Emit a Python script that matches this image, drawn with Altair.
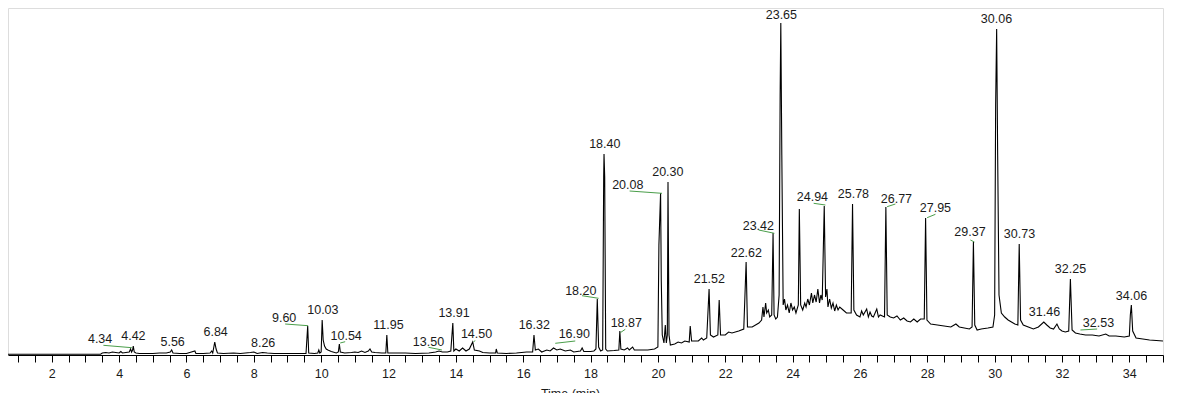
import altair as alt
import pandas as pd

# ---------------- trace (retention time in min, detector response in relative units) -------------
# early part of the run, 0.7 - 23.68 min
time_early = [
    0.70, 3.45, 3.50, 3.60, 3.70, 3.80, 3.90, 4.00, 4.05, 4.10, 4.20, 4.30, 4.34, 4.37, 4.40, 4.42,
    4.45, 4.50, 4.60, 4.80, 5.00, 5.20, 5.40, 5.52, 5.56, 5.60, 5.80, 6.00, 6.25, 6.28, 6.50, 6.70,
    6.75, 6.78, 6.84, 6.88, 6.92, 7.10, 7.40, 7.60, 7.90, 8.00, 8.10, 8.26, 8.40, 8.60, 8.90, 9.20,
    9.55, 9.60, 9.63, 9.80, 9.90, 9.93, 9.96, 10.00, 10.03, 10.06, 10.10, 10.15, 10.20, 10.30,
    10.45, 10.51, 10.54, 10.57, 10.70, 10.90, 11.00, 11.10, 11.20, 11.30, 11.40, 11.45, 11.50,
    11.60, 11.80, 11.92, 11.95, 11.98, 12.20, 12.50, 12.80, 13.20, 13.40, 13.50, 13.60, 13.75,
    13.85, 13.91, 13.94, 14.00, 14.10, 14.20, 14.30, 14.40, 14.50, 14.55, 14.70, 14.80, 15.00,
    15.18, 15.20, 15.23, 15.50, 15.80, 16.10, 16.28, 16.32, 16.36, 16.45, 16.55, 16.70, 16.80,
    16.90, 17.00, 17.10, 17.25, 17.40, 17.50, 17.70, 17.75, 17.80, 18.00, 18.10, 18.16, 18.20,
    18.24, 18.30, 18.36, 18.39, 18.40, 18.42, 18.45, 18.50, 18.70, 18.84, 18.87, 18.90, 19.00,
    19.10, 19.15, 19.25, 19.30, 19.50, 19.70, 19.90, 20.00, 20.03, 20.05, 20.08, 20.10, 20.13,
    20.18, 20.22, 20.25, 20.28, 20.30, 20.33, 20.37, 20.50, 20.60, 20.70, 20.80, 20.93, 20.96,
    21.00, 21.20, 21.30, 21.35, 21.45, 21.52, 21.56, 21.65, 21.78, 21.82, 21.86, 22.00, 22.10,
    22.20, 22.40, 22.55, 22.62, 22.66, 22.80, 23.00, 23.08, 23.12, 23.15, 23.20, 23.23, 23.28,
    23.32, 23.38, 23.42, 23.45, 23.50, 23.55, 23.60, 23.63, 23.65,
]
level_early = [
    0.8, 0.8, 2.0, 2.5, 2.0, 3.0, 2.5, 2.0, 3.5, 2.0, 2.5, 3.0, 6.0, 3.0, 5.0, 9.0,
    3.0, 2.0, 1.5, 1.5, 1.5, 2.0, 2.0, 3.0, 5.0, 2.0, 1.5, 1.5, 4.0, 1.5, 1.5, 2.0,
    4.0, 2.0, 13.0, 6.0, 2.0, 1.5, 2.0, 1.5, 2.5, 3.0, 1.5, 2.5, 2.0, 1.5, 1.5, 1.5,
    1.5, 29.0, 2.0, 1.5, 2.0, 5.0, 2.0, 3.0, 35.0, 15.0, 9.0, 6.0, 5.0, 3.5,
    2.0, 3.0, 11.0, 3.0, 2.0, 2.5, 3.0, 2.5, 4.0, 2.5, 4.0, 6.0, 3.0,
    2.5, 2.0, 2.0, 20.0, 2.0, 2.0, 2.0, 1.5, 2.0, 3.0, 4.0, 3.0, 3.0,
    4.0, 32.0, 4.0, 6.0, 4.0, 7.0, 4.0, 6.0, 13.0, 5.0, 4.0, 2.5, 2.0,
    2.0, 6.0, 2.0, 1.5, 2.0, 3.0, 3.0, 20.0, 5.0, 6.0, 3.0, 5.0, 4.0,
    7.0, 5.0, 6.0, 4.0, 5.0, 3.0, 4.0, 7.0, 3.5, 3.5, 4.0, 6.0, 56.0,
    8.0, 4.0, 5.0, 178.0, 201.0, 178.0, 6.0, 4.0, 4.5, 5.0, 24.0, 6.0, 5.0,
    7.0, 5.0, 8.0, 5.0, 5.0, 5.0, 6.0, 8.0, 110.0, 131.0, 162.0, 75.0, 20.0,
    12.0, 30.0, 12.0, 20.0, 173.0, 20.0, 10.0, 11.0, 13.0, 12.0, 14.0, 13.0, 29.0,
    14.0, 14.0, 17.0, 15.0, 17.0, 66.0, 20.0, 18.0, 20.0, 55.0, 20.0, 20.0, 23.0,
    22.0, 24.0, 26.0, 93.0, 28.0, 28.0, 32.0, 35.0, 48.0, 38.0, 52.0, 42.0, 45.0,
    38.0, 40.0, 122.0, 40.0, 36.0, 38.0, 60.0, 260.0, 332.0,
]

# hump region, 23.68 - 26.81 min
time_mid = [
    23.68, 23.72, 23.76, 23.80, 23.85, 23.90, 23.95, 24.00, 24.05, 24.10,
    24.17, 24.20, 24.24, 24.30, 24.36, 24.40, 24.45, 24.50, 24.56, 24.60,
    24.65, 24.70, 24.75, 24.80, 24.84, 24.88, 24.94, 24.98, 25.02, 25.05,
    25.10, 25.15, 25.20, 25.25, 25.30, 25.35, 25.40, 25.50, 25.60, 25.74,
    25.78, 25.82, 25.90, 26.00, 26.05, 26.10, 26.20, 26.25, 26.30, 26.35,
    26.40, 26.50, 26.55, 26.60, 26.73, 26.77, 26.81,
]
level_mid = [
    200.0, 50.0, 56.0, 45.0, 50.0, 42.0, 52.0, 45.0, 48.0, 42.0,
    50.0, 146.0, 50.0, 45.0, 52.0, 48.0, 56.0, 50.0, 62.0, 52.0,
    60.0, 53.0, 66.0, 52.0, 60.0, 55.0, 149.0, 58.0, 66.0, 48.0,
    56.0, 47.0, 52.0, 44.0, 50.0, 45.0, 48.0, 45.0, 42.0, 42.0,
    151.0, 45.0, 40.0, 38.0, 44.0, 40.0, 46.0, 38.0, 43.0, 39.0,
    38.0, 46.0, 38.0, 40.0, 38.0, 148.0, 40.0,
]

# late part of the run, 26.9 - 35 min
time_late = [
    26.90, 27.00, 27.10, 27.20, 27.30, 27.40, 27.50, 27.60, 27.70,
    27.80, 27.91, 27.95, 27.99, 28.10, 28.30, 28.50, 28.70, 28.85, 28.95, 29.10, 29.25, 29.33,
    29.37, 29.41, 29.48, 29.60, 29.80, 29.95, 30.00, 30.03, 30.06, 30.09, 30.13, 30.20, 30.30,
    30.40, 30.50, 30.60, 30.69, 30.73, 30.77, 30.85, 31.00, 31.15, 31.30, 31.46, 31.55, 31.65,
    31.75, 31.85, 31.92, 32.00, 32.10, 32.20, 32.25, 32.30, 32.40, 32.53, 32.70, 32.90, 33.10,
    33.30, 33.40, 33.60, 33.85, 34.00, 34.03, 34.06, 34.10, 34.20, 34.40, 34.60, 34.80, 35.00,
]
level_late = [
    38.0, 37.0, 39.0, 35.0, 37.0, 34.0, 33.0, 36.0, 33.0,
    36.0, 36.0, 137.0, 35.0, 31.0, 30.0, 29.0, 28.0, 31.0, 28.0, 27.0, 26.0, 28.0,
    113.0, 30.0, 25.0, 26.0, 27.0, 28.0, 40.0, 250.0, 326.0, 200.0, 60.0, 42.0, 38.0,
    35.0, 33.0, 31.0, 30.0, 111.0, 35.0, 30.0, 28.0, 26.0, 28.0, 33.0, 30.0, 27.0,
    26.0, 31.0, 26.0, 24.0, 23.0, 24.0, 76.0, 25.0, 22.0, 21.0, 20.0, 20.0, 19.0,
    21.0, 19.0, 19.0, 18.0, 19.0, 40.0, 50.0, 24.0, 17.0, 16.0, 15.0, 14.5, 14.0,
]

# ---------------- peak annotations ----------------
peak_labels = ["4.34", "4.42", "5.56", "6.84", "8.26", "9.60", "10.03", "10.54", "11.95",
               "13.50", "13.91", "14.50", "16.32", "16.90", "18.20", "18.40", "18.87",
               "20.08", "20.30", "21.52", "22.62", "23.42", "23.65", "24.94", "25.78",
               "26.77", "27.95", "29.37", "30.06", "30.73", "31.46", "32.25", "32.53", "34.06"]
label_time = [3.435, 4.424, 5.589, 6.866, 8.277, 8.901, 10.051, 10.743, 12.0,
              13.188, 13.946, 14.614, 16.329, 17.517, 17.71, 18.423, 19.062,
              19.106, 20.295, 21.528, 22.627, 22.983, 23.667, 24.588, 25.806,
              27.083, 28.242, 29.267, 30.054, 30.737, 31.48, 32.252, 33.084, 34.065]
label_level = [15.7, 19.0, 13.3, 22.7, 11.7, 37.3, 45.0, 19.0, 30.0,
               13.3, 41.7, 20.7, 30.0, 20.7, 64.3, 210.7, 32.3,
               170.0, 182.7, 75.7, 102.3, 129.3, 340.0, 157.7, 160.7,
               156.0, 146.7, 123.3, 335.7, 120.7, 42.7, 85.7, 31.7, 59.3]

# leader lines joining an offset label to its peak
leader_t1 = [3.533, 8.931, 10.565, 13.188, 14.525, 16.952, 17.746, 18.883, 19.16,
             22.992, 24.626, 26.807, 27.995, 29.28, 32.549]
leader_v1 = [9.7, 31.0, 12.0, 7.7, 13.3, 11.7, 59.3, 22.3, 164.0,
             125.0, 151.7, 148.3, 137.3, 115.0, 25.0]
leader_t2 = [4.377, 9.614, 10.713, 13.586, 14.576, 17.546, 18.239, 19.032, 20.122,
             23.459, 24.974, 27.054, 28.242, 29.4, 33.045]
leader_v2 = [7.3, 29.3, 13.3, 5.0, 14.3, 14.0, 56.7, 25.7, 161.7,
             121.7, 150.0, 151.0, 140.7, 113.0, 26.0]

FONT = "Liberation Sans"
TXT = "#1a1a1a"

trace_df = pd.DataFrame({
    "t": time_early + time_mid + time_late,
    "v": level_early + level_mid + level_late,
})
label_df = pd.DataFrame({"label": peak_labels, "t": label_time, "v": label_level})
leader_df = pd.DataFrame({"t1": leader_t1, "v1": leader_v1, "t2": leader_t2, "v2": leader_v2})

x_scale = alt.Scale(domain=[0.70, 35.0], nice=False, zero=False)
y_scale = alt.Scale(domain=[0, 347], nice=False, zero=True)

tick_values = [i * 0.5 for i in range(2, 71)]

x_axis = alt.Axis(
    values=tick_values,
    tickCount=200,
    labelExpr="datum.value % 2 === 0 ? format(datum.value, 'd') : ''",
    title="Time (min)",
    titleX=562, titleY=32, titleBaseline="top", titleAlign="center",
    titleFont=FONT, titleFontSize=12.5, titleFontWeight="normal", titleColor=TXT,
    labelFont=FONT, labelFontSize=12.5, labelColor=TXT, labelPadding=5,
    labelOverlap=False, labelFlush=False,
    tickSize=7, tickColor="black", domainColor="black", grid=False,
)

trace = alt.Chart(trace_df).mark_line(color="black", strokeWidth=1.1, clip=True).encode(
    x=alt.X("t:Q", scale=x_scale, axis=x_axis),
    y=alt.Y("v:Q", scale=y_scale, axis=None),
    order="t:Q",
)

leaders = alt.Chart(leader_df).mark_rule(color="#4a9e4a", strokeWidth=1).encode(
    x=alt.X("t1:Q", scale=x_scale),
    y=alt.Y("v1:Q", scale=y_scale),
    x2="t2:Q",
    y2="v2:Q",
)

labels = alt.Chart(label_df).mark_text(
    font=FONT, fontSize=12.5, color=TXT, align="center", baseline="middle"
).encode(
    x=alt.X("t:Q", scale=x_scale),
    y=alt.Y("v:Q", scale=y_scale),
    text="label:N",
)

chart = (
    alt.layer(trace, leaders, labels)
    .properties(width=1155, height=347,
                padding={"left": 0, "top": 0, "right": 5, "bottom": 0})
    .configure_view(fill="#F0F0F0", stroke="#b4b4b4", strokeWidth=1)
    .configure(background="white")
)

chart.save("out.html", embed_options={"renderer": "svg", "actions": False})
